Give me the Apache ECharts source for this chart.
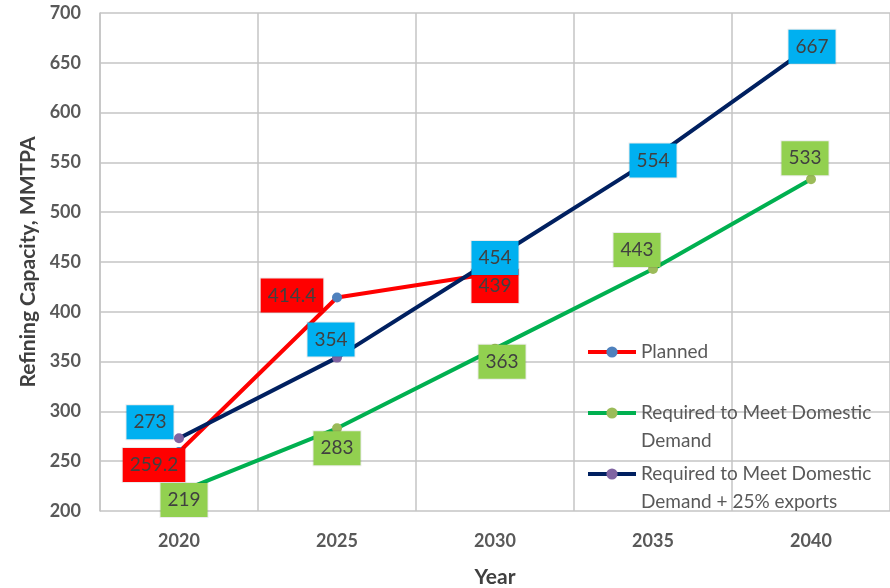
<!DOCTYPE html>
<html>
<head>
<meta charset="utf-8">
<script src="https://cdn.jsdelivr.net/npm/echarts@6/dist/echarts.min.js"></script>
<style>
html,body{margin:0;padding:0;background:#fff;}
#chart{width:890px;height:588px;}
</style>
</head>
<body>
<div id="chart"></div>
<script>
// ---- Data ----
var categories = ['2020', '2025', '2030', '2035', '2040'];
var planned = [259.2, 414.4, 439];
var domesticDemand = [219, 283, 363, 443, 533];
var demandPlusExports = [273, 354, 454, 554, 667];
var yTicks = { min: 200, max: 700, interval: 50 };

// ---- Label placement offsets (style only) ----
var plannedLabelOffsets = [[-25, 13], [-45, -2], [0, 13]];
var domesticLabelOffsets = [[5, 8], [0, 20], [7, 13], [-16, -19], [-6, -21]];
var exportLabelOffsets = [[-29, -16], [-6, -18], [0, 0], [0, 2], [1, 1]];

var FONT = 'Lato, "Noto Sans", sans-serif';

function buildData(values, offsets) {
  return values.map(function (v, i) {
    return { value: v, label: { offset: offsets[i] } };
  });
}

function labelStyle(bg) {
  return {
    show: true,
    position: 'inside',
    backgroundColor: bg,
    borderColor: 'rgba(0,0,0,0.08)',
    borderWidth: 1,
    color: '#404040',
    fontFamily: FONT,
    fontSize: 19,
    lineHeight: 22,
    padding: [6, 7, 6, 7]
  };
}

var chart = echarts.init(document.getElementById('chart'));
var legendText = { color: '#595959', fontFamily: FONT, fontSize: 19, lineHeight: 28 };
var legendCommon = { itemWidth: 48, itemHeight: 14, padding: 0, textStyle: legendText, lineStyle: { width: 4 } };
function mkLegend(name, top, twoLine) {
  var l = Object.assign({ left: 586, top: top, data: [name] }, legendCommon);
  if (twoLine) l.formatter = function (n) { return '\n' + n; };
  return l;
}

var s1 = 'Planned';
var s2 = 'Required to Meet Domestic\nDemand';
var s3 = 'Required to Meet Domestic\nDemand + 25% exports';

chart.setOption({
  animation: false,
  backgroundColor: '#ffffff',
  grid: { left: 100, right: 0, top: 13, bottom: 77, outerBoundsMode: 'none', containLabel: false },
  legend: [
    mkLegend(s1, 338, false),
    mkLegend(s2, 371, true),
    mkLegend(s3, 432, true)
  ],
  xAxis: {
    type: 'category',
    data: categories,
    boundaryGap: true,
    name: 'Year',
    nameLocation: 'middle',
    nameGap: 56,
    nameTextStyle: { color: '#404040', fontFamily: FONT, fontSize: 21, fontWeight: 'bold' },
    axisLine: { show: false },
    axisTick: { show: false },
    axisLabel: { color: '#595959', fontFamily: FONT, fontSize: 18, fontWeight: 'bold', margin: 21 },
    splitLine: { show: true, lineStyle: { color: '#c4c4c4', width: 1.5 } }
  },
  yAxis: {
    type: 'value',
    min: yTicks.min,
    max: yTicks.max,
    interval: yTicks.interval,
    name: 'Refining Capacity, MMTPA',
    nameLocation: 'middle',
    nameGap: 61,
    nameTextStyle: { color: '#404040', fontFamily: FONT, fontSize: 21, fontWeight: 'bold' },
    axisLine: { show: true, lineStyle: { color: '#c4c4c4', width: 1.5 } },
    axisTick: { show: false },
    axisLabel: { color: '#595959', fontFamily: FONT, fontSize: 18, fontWeight: 'bold', margin: 19 },
    splitLine: { show: true, lineStyle: { color: '#c4c4c4', width: 1.5 } }
  },
  series: [
    {
      name: s1,
      type: 'line',
      data: buildData(planned, plannedLabelOffsets),
      symbol: 'circle',
      symbolSize: 10,
      lineStyle: { color: '#ff0000', width: 4 },
      itemStyle: { color: '#4f81bd' },
      label: labelStyle('#ff0000'),
      z: 2
    },
    {
      name: s2,
      type: 'line',
      data: buildData(domesticDemand, domesticLabelOffsets),
      symbol: 'circle',
      symbolSize: 10,
      lineStyle: { color: '#00b050', width: 4 },
      itemStyle: { color: '#9bbb59' },
      label: labelStyle('#92d050'),
      z: 3
    },
    {
      name: s3,
      type: 'line',
      data: buildData(demandPlusExports, exportLabelOffsets),
      symbol: 'circle',
      symbolSize: 10,
      lineStyle: { color: '#002060', width: 4 },
      itemStyle: { color: '#8064a2' },
      label: labelStyle('#00b0f0'),
      z: 4
    }
  ]
});
</script>
</body>
</html>
